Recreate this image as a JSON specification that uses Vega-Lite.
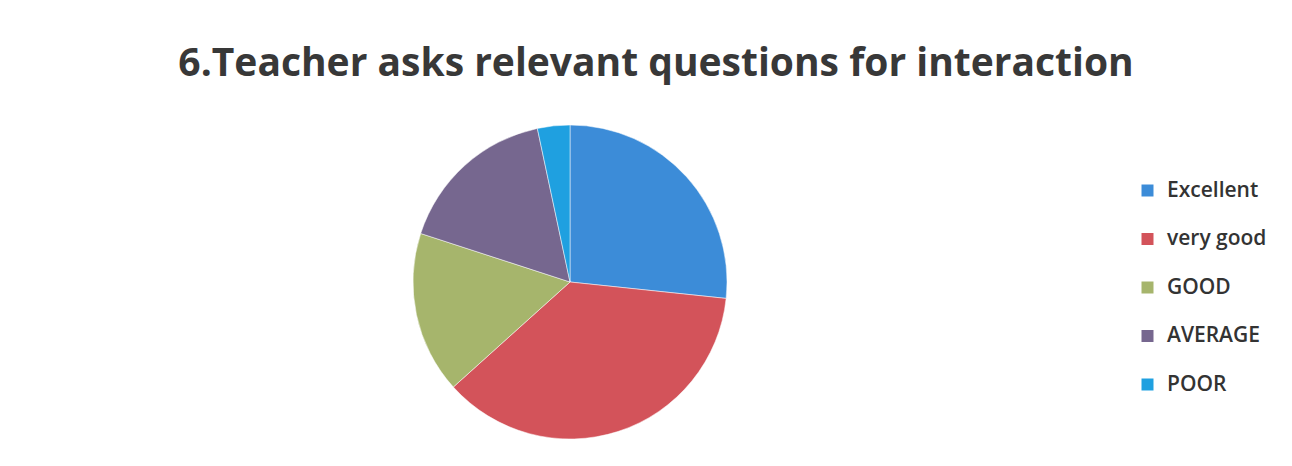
{
  "$schema": "https://vega.github.io/schema/vega-lite/v6.json",
  "autosize": {"type": "none"},
  "width": 314,
  "height": 314,
  "padding": {"left": 413, "top": 125, "right": 565, "bottom": 27},
  "background": "white",
  "title": {
    "text": "6.Teacher asks relevant questions for interaction",
    "font": "Open Sans",
    "fontSize": 39,
    "fontWeight": "bold",
    "color": "#383838",
    "anchor": "middle",
    "frame": "group",
    "dx": 86,
    "offset": 40
  },
  "data": {
    "values": [
      {"rating": "Excellent", "count": 8, "order": 1},
      {"rating": "very good", "count": 11, "order": 2},
      {"rating": "GOOD", "count": 5, "order": 3},
      {"rating": "AVERAGE", "count": 5, "order": 4},
      {"rating": "POOR", "count": 1, "order": 5}
    ]
  },
  "mark": {"type": "arc", "stroke": "white", "strokeWidth": 0.5},
  "encoding": {
    "theta": {"field": "count", "type": "quantitative", "stack": true},
    "order": {"field": "order", "type": "quantitative"},
    "color": {
      "field": "rating",
      "type": "nominal",
      "sort": ["Excellent", "very good", "GOOD", "AVERAGE", "POOR"],
      "scale": {
        "domain": ["Excellent", "very good", "GOOD", "AVERAGE", "POOR"],
        "range": ["#3c8cd8", "#d3535a", "#a6b56c", "#76678f", "#1fa0e0"]
      },
      "legend": {
        "title": null,
        "orient": "none",
        "legendX": 724,
        "legendY": 55,
        "padding": 0,
        "symbolType": "square",
        "symbolSize": 144,
        "symbolStrokeWidth": 0,
        "labelFont": "Open Sans",
        "labelFontSize": 21,
        "labelFontWeight": 600,
        "labelColor": "#333333",
        "labelOffset": 9,
        "rowPadding": 26.5
      }
    }
  },
  "config": {"view": {"stroke": null}}
}
